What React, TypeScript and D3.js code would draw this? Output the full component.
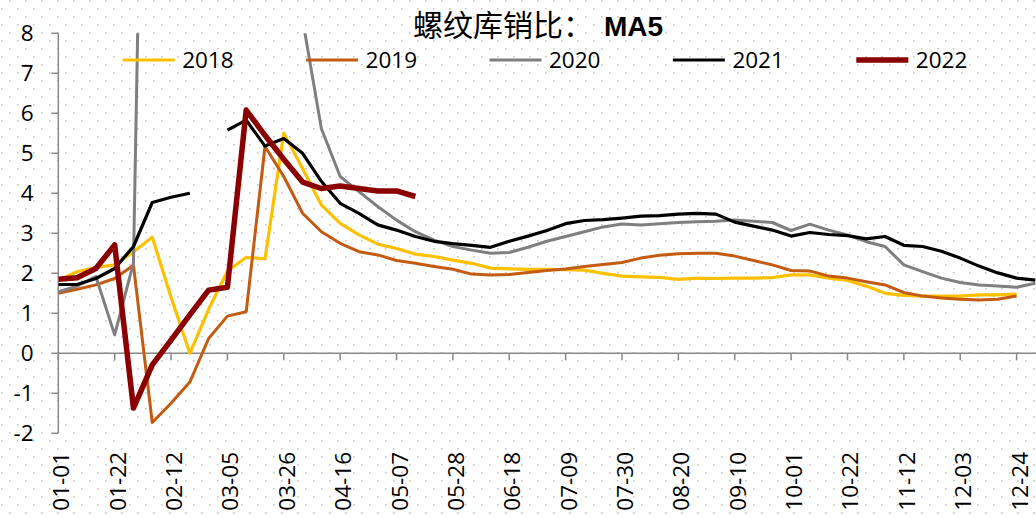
import React, { useEffect } from 'react';
import * as d3 from 'd3';

const W = 1036;
const H = 515;

// weekly categories (MA5 of weekly inventory / sales ratio)
const weeks = [
  '01-01', '01-08', '01-15', '01-22', '01-29', '02-05', '02-12', '02-19', '02-26', '03-05',
  '03-12', '03-19', '03-26', '04-02', '04-09', '04-16', '04-23', '04-30', '05-07', '05-14',
  '05-21', '05-28', '06-04', '06-11', '06-18', '06-25', '07-02', '07-09', '07-16', '07-23',
  '07-30', '08-06', '08-13', '08-20', '08-27', '09-03', '09-10', '09-17', '09-24', '10-01',
  '10-08', '10-15', '10-22', '10-29', '11-05', '11-12', '11-19', '11-26', '12-03', '12-10',
  '12-17', '12-24', '12-31',
];

const xTickLabels = [
  '01-01', '01-22', '02-12', '03-05', '03-26', '04-16', '05-07', '05-28', '06-18',
  '07-09', '07-30', '08-20', '09-10', '10-01', '10-22', '11-12', '12-03', '12-24',
];

const yTicks = [-2, -1, 0, 1, 2, 3, 4, 5, 6, 7, 8];

const s2018 = [
  1.83, 2.04, 2.15, 2.21, 2.54, 2.9, 1.4, 0.0, 1.1, 2.05, 2.4, 2.36, 5.5, 4.62, 3.71, 3.25,
  2.96, 2.73, 2.62, 2.48, 2.42, 2.33, 2.25, 2.13, 2.11, 2.1, 2.1, 2.09, 2.08, 2.0, 1.93, 1.91,
  1.9, 1.85, 1.88, 1.87, 1.88, 1.88, 1.89, 1.96, 1.96, 1.88, 1.82, 1.68, 1.5, 1.45, 1.43, 1.43,
  1.43, 1.46, 1.46, 1.48,
];
const s2019 = [
  1.5, 1.6, 1.71, 1.87, 2.2, -1.73, -1.25, -0.72, 0.37, 0.93, 1.04, 5.17, 4.42, 3.5, 3.04, 2.75,
  2.54, 2.46, 2.32, 2.25, 2.17, 2.1, 1.98, 1.96, 1.97, 2.02, 2.07, 2.11, 2.17, 2.22, 2.27, 2.38,
  2.45, 2.49, 2.5, 2.5, 2.43, 2.32, 2.21, 2.07, 2.06, 1.93, 1.88, 1.79, 1.71, 1.52, 1.43, 1.38,
  1.35, 1.33, 1.35, 1.43,
];
const s2020 = [
  1.54, 1.68, 1.92, 0.46, 2.26, 28, 26, 23, 20, 17, 14, 12, 10, 8.35, 5.62, 4.42,
  4.04, 3.67, 3.33, 3.04, 2.83, 2.67, 2.58, 2.5, 2.52, 2.65, 2.8, 2.92, 3.04, 3.16, 3.23, 3.21,
  3.24, 3.27, 3.29, 3.3, 3.33, 3.3, 3.27, 3.07, 3.23, 3.08, 2.96, 2.79, 2.67, 2.21, 2.04, 1.88,
  1.77, 1.71, 1.68, 1.65, 1.75,
];
const s2021 = [
  1.72, 1.72, 1.87, 2.12, 2.67, 3.77, 3.9, 4.0, null, 5.58, 5.83, 5.18, 5.37, 5.0, 4.3, 3.75,
  3.5, 3.21, 3.08, 2.92, 2.8, 2.74, 2.7, 2.65, 2.8, 2.93, 3.07, 3.24, 3.32, 3.34, 3.38, 3.43,
  3.44, 3.48, 3.5, 3.48, 3.28, 3.18, 3.08, 2.93, 3.02, 2.97, 2.94, 2.86, 2.92, 2.7, 2.67, 2.55,
  2.38, 2.18, 2.01, 1.88, 1.83,
];
const s2022 = [
  1.85, 1.89, 2.12, 2.71, -1.37, -0.29, 0.33, 0.96, 1.58, 1.65, 6.08, 5.45, 4.85, 4.28, 4.12, 4.18,
  4.12, 4.06, 4.06, 3.92,
];

const years = ['2018', '2019', '2020', '2021', '2022'];
const seriesData = [s2018, s2019, s2020, s2021, s2022];
const colors = ['#FFC000', '#C55A11', '#7F7F7F', '#000000', '#8B0000'];
const widths = [3.2, 3, 3, 3.2, 5.5];

const FONT = '"Open Sans", "Liberation Sans", sans-serif';
const AXIS = '#898989';

const App = () => {
  useEffect(() => {
    document.body.style.margin = '0';
  }, []);

  const margin = { left: 58.3, top: 33.3, bottom: 433.3 };
  const step = 18.79;

  const x = d3
    .scalePoint<string>()
    .domain(weeks)
    .range([margin.left, margin.left + (weeks.length - 1) * step]);
  const y = d3.scaleLinear().domain([-2, 8]).range([margin.bottom, margin.top]);

  const line = d3
    .line<number | null>()
    .defined((d) => d != null)
    .x((d, i) => x(weeks[i]) as number)
    .y((d) => y(d as number))
    .curve(d3.curveLinear);

  const zeroY = y(0);

  return (
    <svg width={W} height={H} style={{ display: 'block', position: 'absolute', left: 0, top: 0 }}>
      <defs>
        <pattern id="dots" width={16} height={16} patternUnits="userSpaceOnUse">
          <rect x={9} y={0} width={1.6} height={1.6} fill="#c8c8c8" />
          <rect x={1} y={8} width={1.6} height={1.6} fill="#c8c8c8" />
        </pattern>
        <clipPath id="plot">
          <rect x={margin.left} y={margin.top} width={W - margin.left} height={margin.bottom - margin.top} />
        </clipPath>
      </defs>
      <rect x={0} y={0} width={W} height={H} fill="#ffffff" />
      <rect x={0} y={0} width={W} height={H} fill="url(#dots)" />

      {/* title */}
      <text x={413} y={36} fontSize={30} fill="#000">
        <tspan fontFamily='"Noto Sans CJK SC", sans-serif'>螺纹库销比：</tspan>
        <tspan x={604} fontFamily='"Liberation Sans", sans-serif' fontWeight="bold" fontSize={28}>
          MA5
        </tspan>
      </text>

      {/* y axis */}
      <line x1={margin.left} x2={margin.left} y1={margin.top} y2={margin.bottom} stroke={AXIS} strokeWidth={1.5} />
      {yTicks.map((t) => (
        <g key={t}>
          <line x1={margin.left - 7} x2={margin.left} y1={y(t)} y2={y(t)} stroke={AXIS} strokeWidth={1.5} />
          <text x={33.5} y={y(t) + 8} textAnchor="end" fontFamily={FONT} fontSize={22.5} fill="#000">
            {t}
          </text>
        </g>
      ))}

      {/* x axis at zero */}
      <line x1={margin.left} x2={W} y1={zeroY} y2={zeroY} stroke={AXIS} strokeWidth={1.5} />
      {xTickLabels.map((lab) => {
        const px = x(lab) as number;
        return (
          <g key={lab}>
            <line x1={px} x2={px} y1={zeroY} y2={zeroY + 7} stroke={AXIS} strokeWidth={1.5} />
            <text
              transform={`translate(${px + 11},452) rotate(-90)`}
              textAnchor="end"
              fontFamily={FONT}
              fontSize={22.5}
              fill="#000"
            >
              {lab}
            </text>
          </g>
        );
      })}

      {/* series */}
      <g clipPath="url(#plot)">
        {seriesData.map((s, k) => (
          <path
            key={years[k]}
            d={line(s) || ''}
            fill="none"
            stroke={colors[k]}
            strokeWidth={widths[k]}
            strokeLinejoin="round"
          />
        ))}
      </g>

      {/* legend */}
      {years.map((yr, k) => {
        const lx = 122.7 + k * 183.4;
        return (
          <g key={yr}>
            <line x1={lx} x2={lx + 52} y1={60} y2={60} stroke={colors[k]} strokeWidth={widths[k]} />
            <text x={lx + 59.5} y={68} fontFamily={FONT} fontSize={22.5} fill="#000">
              {yr}
            </text>
          </g>
        );
      })}
    </svg>
  );
};

export default App;
